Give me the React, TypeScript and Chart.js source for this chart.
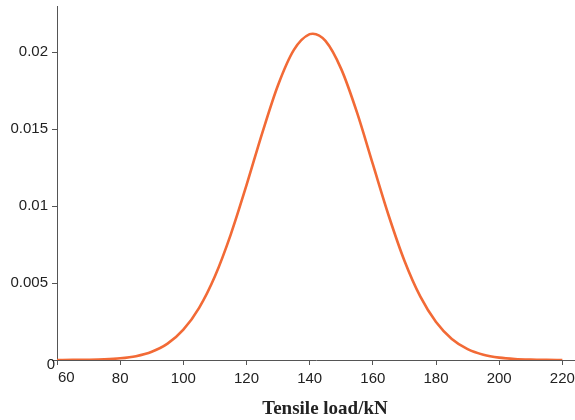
import React, { useEffect, useRef } from "react";
import { Chart, registerables } from "chart.js";

Chart.register(...registerables);

const loadKN = [60, 65, 70, 75, 80, 85, 90, 95, 100, 105, 110, 115, 120, 125, 130, 135, 140, 141, 145, 150, 155, 160, 165, 170, 175, 180, 185, 190, 195, 200, 205, 210, 215, 220];
const density = [0.000002, 0.000006, 0.000017, 0.000045, 0.00011, 0.00025, 0.000535, 0.00106, 0.00197, 0.00339, 0.00544, 0.00815, 0.01136, 0.01476, 0.01787, 0.02015, 0.02117, 0.0212, 0.02073, 0.0189, 0.01607, 0.01272, 0.00939, 0.00645, 0.00413, 0.00247, 0.00137, 0.00071, 0.000343, 0.000154, 0.000064, 0.000025, 0.000009, 0.000003];
const xTicks = [60, 80, 100, 120, 140, 160, 180, 200, 220];
const yTicks = [0, 0.005, 0.01, 0.015, 0.02];
const xTitle = "Tensile load/kN";

const LABEL_FONT = "15px 'Liberation Sans', Arial, sans-serif";

const textPlugin = {
  id: "extraText",
  afterDraw(chart: any) {
    const { ctx, chartArea, scales } = chart;
    ctx.save();
    ctx.fillStyle = "#222";
    // axis title
    ctx.font = "bold 19px 'Liberation Serif', 'Times New Roman', serif";
    ctx.textAlign = "center";
    ctx.textBaseline = "middle";
    ctx.fillText(xTitle, (chartArea.left + chartArea.right) / 2 + 9, chartArea.bottom + 49);
    // origin labels, placed as in the reference
    ctx.font = LABEL_FONT;
    ctx.textAlign = "left";
    ctx.textBaseline = "top";
    ctx.fillText(String(xTicks[0]), scales.x.getPixelForValue(xTicks[0]) + 1, chartArea.bottom + 10);
    ctx.textAlign = "right";
    ctx.textBaseline = "middle";
    ctx.fillText(String(yTicks[0]), chartArea.left - 2, scales.y.getPixelForValue(yTicks[0]) + 5);
    ctx.restore();
  },
};

export default function App() {
  const ref = useRef<HTMLCanvasElement | null>(null);
  useEffect(() => {
    if (!ref.current) return;
    const axisColor = "#555555";
    const labelFont = { family: "'Liberation Sans', Arial, sans-serif", size: 15 };
    const chart = new Chart(ref.current, {
      type: "scatter",
      data: {
        datasets: [
          {
            data: loadKN.map((x, i) => ({ x, y: density[i] })),
            showLine: true,
            borderColor: "#f26a36",
            borderWidth: 2.6,
            pointRadius: 0,
            cubicInterpolationMode: "monotone",
            fill: false,
          },
        ],
      },
      plugins: [textPlugin],
      options: {
        animation: false,
        responsive: false,
        maintainAspectRatio: false,
        layout: { padding: { top: 6, left: 0, right: 0, bottom: 0 } },
        plugins: { legend: { display: false }, tooltip: { enabled: false } },
        scales: {
          x: {
            type: "linear",
            min: 60,
            max: 224,
            afterBuildTicks: (s: any) => {
              s.ticks = xTicks.map((v) => ({ value: v }));
            },
            afterFit: (s: any) => {
              s.height = 60;
              s.paddingLeft = 0;
              s.paddingRight = 0;
            },
            grid: { drawOnChartArea: false, drawTicks: true, tickLength: 5, color: axisColor, tickColor: axisColor },
            border: { color: axisColor, width: 1 },
            ticks: {
              color: "#222",
              font: labelFont,
              padding: 5,
              maxRotation: 0,
              callback: (v: any) => (v === xTicks[0] ? "" : String(v)),
            },
          },
          y: {
            type: "linear",
            min: 0,
            max: 0.023,
            afterBuildTicks: (s: any) => {
              s.ticks = yTicks.map((v) => ({ value: v }));
            },
            afterFit: (s: any) => {
              s.width = 57;
              s.paddingTop = 0;
              s.paddingBottom = 0;
            },
            grid: { drawOnChartArea: false, drawTicks: true, tickLength: 5, color: axisColor, tickColor: axisColor },
            border: { color: axisColor, width: 1 },
            ticks: {
              color: "#222",
              font: labelFont,
              padding: 4,
              callback: (v: any) => (Number(v) === 0 ? "" : String(+Number(v).toFixed(4))),
            },
          },
        },
      },
    });
    return () => chart.destroy();
  }, []);
  return (
    <div style={{ position: "absolute", left: 0, top: 0, width: 575, height: 420, background: "#fff" }}>
      <canvas ref={ref} width={575} height={420} style={{ width: 575, height: 420 }} />
    </div>
  );
}
